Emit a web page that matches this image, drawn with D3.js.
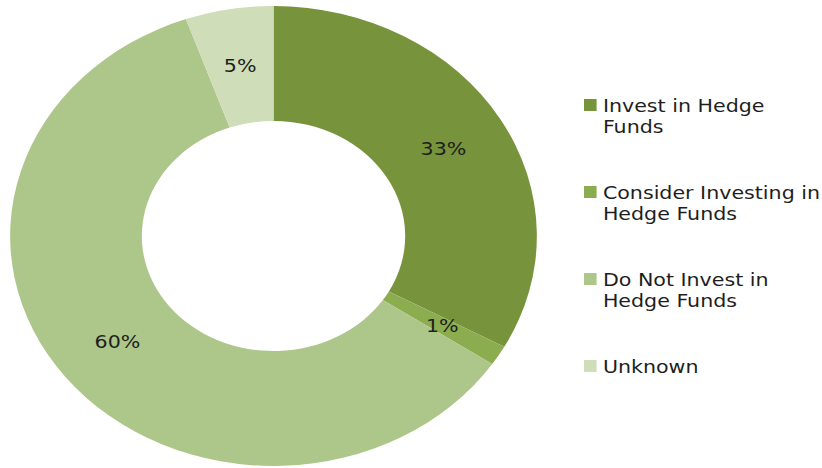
<!DOCTYPE html>
<html>
<head>
<meta charset="utf-8">
<script src="https://cdn.jsdelivr.net/npm/d3@7"></script>
<style>
  html, body { margin: 0; padding: 0; background: #ffffff; }
  svg { display: block; }
  text { font-family: "DejaVu Sans", sans-serif; fill: #1e1e1e; }
</style>
</head>
<body>
<svg id="chart" width="822" height="468"></svg>
<script>
// Survey answers: share of respondents (percent)
const categories = [
  "Invest in Hedge Funds",
  "Consider Investing in Hedge Funds",
  "Do Not Invest in Hedge Funds",
  "Unknown"
];
const values = [33.0, 1.4, 60.2, 5.4];
const legendLines = [
  ["Invest in Hedge", "Funds"],
  ["Consider Investing in", "Hedge Funds"],
  ["Do Not Invest in", "Hedge Funds"],
  ["Unknown"]
];
const colors = ["#77933c", "#8cad4f", "#adc689", "#cfddb8"];

const svg = d3.select("#chart");
const stretch = 1.145;          // horizontal stretch of the whole drawing
const outerR = 230, innerR = 115;

const color = d3.scaleOrdinal().domain(categories).range(colors);
const pct = d3.format(".0f");

const pie = d3.pie().sort(null).value(d => d.value);
const arcs = pie(categories.map((c, i) => ({ cat: c, value: values[i] })));
const arc = d3.arc().innerRadius(innerR).outerRadius(outerR);

const ring = svg.append("g")
  .attr("transform", `translate(273.5,236) scale(${stretch},1)`);

ring.selectAll("path.slice")
  .data(arcs)
  .join("path")
  .attr("class", "slice")
  .attr("d", arc)
  .attr("fill", d => color(d.data.cat));

ring.selectAll("text.pct")
  .data(arcs)
  .join("text")
  .attr("class", "pct")
  .attr("transform", d => `translate(${arc.centroid(d)})`)
  .attr("text-anchor", "middle")
  .attr("dy", "0.36em")
  .style("font-size", "18px")
  .text(d => pct(d.data.value) + "%");

// Legend
const legend = svg.append("g")
  .attr("transform", `translate(584,0) scale(${stretch},1)`);
const firstBaseline = 112, step = 87, lineGap = 21;

const item = legend.selectAll("g.item")
  .data(categories)
  .join("g")
  .attr("class", "item")
  .attr("transform", (d, i) => `translate(0,${firstBaseline + i * step})`);

item.append("rect")
  .attr("x", 0)
  .attr("y", -13)
  .attr("width", 11)
  .attr("height", 12)
  .attr("fill", d => color(d));

item.append("text")
  .style("font-size", "18px")
  .selectAll("tspan")
  .data((d, i) => legendLines[i])
  .join("tspan")
  .attr("x", 16.5)
  .attr("y", (d, j) => j * lineGap)
  .text(d => d);
</script>
</body>
</html>
